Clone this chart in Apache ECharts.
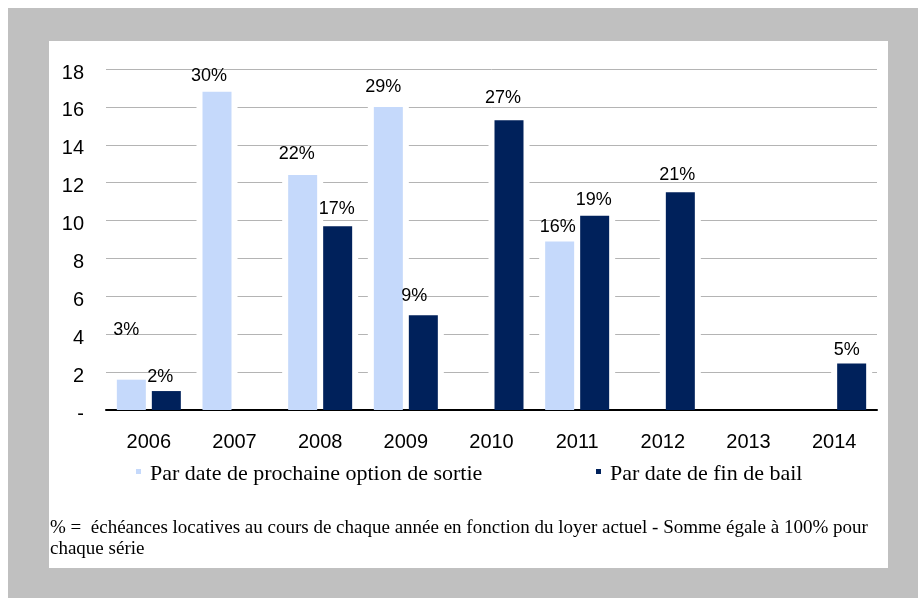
<!DOCTYPE html>
<html>
<head>
<meta charset="utf-8">
<script src="https://cdn.jsdelivr.net/npm/echarts@6/dist/echarts.min.js"></script>
<style>
  html, body { margin: 0; padding: 0; background: #fff; }
  #main { width: 918px; height: 598px; }
</style>
</head>
<body>
<div id="main"></div>
<script>
// donnees
var years = ['2006', '2007', '2008', '2009', '2010', '2011', '2012', '2013', '2014'];
var sortieValues = [1.6, 16.8, 12.4, 16.0, null, 8.9, null, null, null];
var finBailValues = [1.0, null, 9.7, 5.0, 15.3, 10.25, 11.5, null, 2.45];
var sortiePct = ['3%', '30%', '22%', '29%', '', '16%', '', '', ''];
var finBailPct = ['2%', '', '17%', '9%', '27%', '19%', '21%', '', '5%'];
var zeroTickLabel = '-';
var sortieName = 'Par date de prochaine option de sortie';
var finBailName = 'Par date de fin de bail';
var footnote = '% =  échéances locatives au cours de chaque année en fonction du loyer actuel - Somme égale à 100% pour\nchaque série';

window.onload = function () {
	var myChart = echarts.init(document.getElementById('main'));

	var barW = 29, gapW = 6, halo = 6;

	// decalages des etiquettes [dx, dy] (comme sur l'original)
	var nudgeSortie = { 0: [-5, -34], 1: [-8, 0], 2: [-6, -5], 3: [-5, -4], 5: [-2, 2] };
	var nudgeFin = { 0: [-6, 2], 2: [-1, -1], 3: [-9, -3], 4: [-6, -6], 5: [-1, 0], 6: [-3, -1], 8: [-5, 2] };

	function buildData(values, pct, nudge) {
		return values.map(function (v, i) {
			var item = { value: v, pct: pct[i] };
			if (nudge[i]) {
				item.label = { offset: nudge[i] };
			}
			return item;
		});
	}

	// fond blanc autour des barres (coupe le quadrillage comme dans Excel)
	function renderHalo(params, api) {
		var children = [];
		var offs = [-(barW + gapW) / 2, (barW + gapW) / 2];
		var base = api.coord([api.value(0), 0]);
		for (var k = 0; k < 2; k++) {
			var v = api.value(k + 1);
			if (v == null || isNaN(v)) continue;
			var top = api.coord([api.value(0), v]);
			var x = base[0] + offs[k] - barW / 2 - halo;
			children.push({
				type: 'rect',
				shape: { x: x, y: top[1] - 2, width: barW + 2 * halo, height: base[1] - 2 - (top[1] - 2) },
				style: { fill: '#fff' }
			});
		}
		return { type: 'group', children: children };
	}

	var labelStyle = {
		show: true,
		position: 'top',
		distance: 7,
		fontFamily: 'Liberation Sans',
		fontSize: 18,
		color: '#000',
		formatter: function (p) { return p.data.pct; }
	};

	var legendText = { fontFamily: 'Liberation Serif', fontSize: 22, color: '#000', padding: [0, 0, 0, 4] };

	var option = {
		backgroundColor: '#c0c0c0',
		animation: false,
		graphic: [
			{ type: 'rect', z: -10, shape: { x: 0, y: 0, width: 918, height: 8 }, style: { fill: '#fff' } },
			{ type: 'rect', z: -10, shape: { x: 0, y: 0, width: 8, height: 598 }, style: { fill: '#fff' } },
			{ type: 'rect', z: -10, shape: { x: 49, y: 41, width: 839, height: 527 }, style: { fill: '#fff' } },
			{
				type: 'text', left: 50, top: 518, z: 10,
				style: {
					text: footnote,
					font: '19px "Liberation Serif"',
					fill: '#000',
					lineHeight: 21
				}
			}
		],
		legend: [
			{
				data: [sortieName],
				left: 136,
				top: 463,
				padding: 0,
				icon: 'path://M0 0H6V6H0Z M0 12H6',
				itemWidth: 5,
				itemHeight: 12,
				textStyle: legendText
			},
			{
				data: [finBailName],
				left: 596,
				top: 463,
				padding: 0,
				icon: 'path://M0 0H6V6H0Z M0 12H6',
				itemWidth: 5,
				itemHeight: 12,
				textStyle: legendText
			}
		],
		grid: {
			left: 106,
			right: 41,
			top: 69,
			bottom: 188
		},
		xAxis: {
			type: 'category',
			data: years,
			axisLine: { lineStyle: { color: '#000', width: 2 } },
			axisTick: { show: false },
			axisLabel: {
				margin: 22,
				fontFamily: 'Liberation Sans',
				fontSize: 20,
				color: '#000'
			}
		},
		yAxis: {
			type: 'value',
			min: 0,
			max: 18,
			interval: 2,
			axisLine: { show: false },
			axisTick: { show: false },
			splitLine: { lineStyle: { color: '#b4b4b4', width: 1 } },
			axisLabel: {
				margin: 22,
				color: '#000',
				formatter: function (v) { return '{t|' + (v === 0 ? zeroTickLabel : v) + '}'; },
				rich: {
					t: {
						fontFamily: 'Liberation Sans',
						fontSize: 20,
						color: '#000',
						padding: [8, 0, 0, 0]
					}
				}
			}
		},
		series: [
			{
				name: sortieName,
				type: 'bar',
				barWidth: barW,
				barGap: (gapW / barW * 100) + '%',
				itemStyle: { color: '#c5d9fb' },
				label: labelStyle,
				data: buildData(sortieValues, sortiePct, nudgeSortie)
			},
			{
				name: finBailName,
				type: 'bar',
				barWidth: barW,
				barGap: (gapW / barW * 100) + '%',
				itemStyle: { color: '#00215b' },
				label: labelStyle,
				data: buildData(finBailValues, finBailPct, nudgeFin)
			},
			{
				type: 'custom',
				z: 1,
				silent: true,
				renderItem: renderHalo,
				data: years.map(function (y, i) { return [i, sortieValues[i], finBailValues[i]]; })
			}
		]
	};

	myChart.setOption(option);
};
</script>
</body>
</html>
